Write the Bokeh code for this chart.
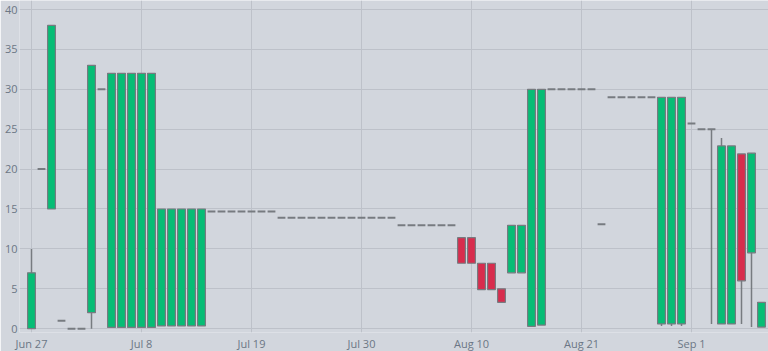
import pandas as pd
from bokeh.plotting import figure
from bokeh.models import Range1d, FixedTicker, ColumnDataSource
from bokeh.embed import file_html
from bokeh.resources import INLINE

start = "2024-06-27"
end = "2024-09-08"
dates = [d.strftime("%Y-%m-%d") for d in pd.date_range(start, end, freq="D")]

opens = [0, 20, 15, 1, 0, 0, 2, 30,
         0.15, 0.15, 0.15, 0.15, 0.15,
         0.35, 0.35, 0.35, 0.35, 0.35,
         14.7, 14.7, 14.7, 14.7, 14.7, 14.7, 14.7,
         13.9, 13.9, 13.9, 13.9, 13.9, 13.9, 13.9, 13.9, 13.9, 13.9, 13.9, 13.9,
         12.95, 12.95, 12.95, 12.95, 12.95, 12.95,
         11.4, 11.4, 8.2, 8.2, 5.0, 7.0, 7.0, 0.3, 0.45,
         30, 30, 30, 30, 30,
         13.1,
         29, 29, 29, 29, 29,
         0.6, 0.6, 0.6,
         25.7, 25, 25, 0.6, 0.6, 21.9, 9.5, 0.2]
highs = [10, 20, 38, 1, 0, 0, 33, 30,
         32, 32, 32, 32, 32,
         15, 15, 15, 15, 15,
         14.7, 14.7, 14.7, 14.7, 14.7, 14.7, 14.7,
         13.9, 13.9, 13.9, 13.9, 13.9, 13.9, 13.9, 13.9, 13.9, 13.9, 13.9, 13.9,
         12.95, 12.95, 12.95, 12.95, 12.95, 12.95,
         11.4, 11.4, 8.2, 8.2, 5.0, 12.95, 12.95, 30, 30,
         30, 30, 30, 30, 30,
         13.1,
         29, 29, 29, 29, 29,
         29, 29, 29,
         25.7, 25, 25, 23.9, 22.9, 21.9, 22, 3.3]
lows = [0, 20, 15, 1, 0, 0, 0, 30,
        0.15, 0.15, 0.15, 0.15, 0.15,
        0.35, 0.35, 0.35, 0.35, 0.35,
        14.7, 14.7, 14.7, 14.7, 14.7, 14.7, 14.7,
        13.9, 13.9, 13.9, 13.9, 13.9, 13.9, 13.9, 13.9, 13.9, 13.9, 13.9, 13.9,
        12.95, 12.95, 12.95, 12.95, 12.95, 12.95,
        8.2, 8.2, 4.9, 4.9, 3.3, 7.0, 7.0, 0.3, 0.45,
        30, 30, 30, 30, 30,
        13.1,
        29, 29, 29, 29, 29,
        0.35, 0.35, 0.35,
        25.7, 25, 0.6, 0.6, 0.6, 0.6, 0.2, 0.2]
closes = [7, 20, 38, 1, 0, 0, 33, 30,
          32, 32, 32, 32, 32,
          15, 15, 15, 15, 15,
          14.7, 14.7, 14.7, 14.7, 14.7, 14.7, 14.7,
          13.9, 13.9, 13.9, 13.9, 13.9, 13.9, 13.9, 13.9, 13.9, 13.9, 13.9, 13.9,
          12.95, 12.95, 12.95, 12.95, 12.95, 12.95,
          8.2, 8.2, 4.9, 4.9, 3.3, 12.95, 12.95, 30, 30,
          30, 30, 30, 30, 30,
          13.1,
          29, 29, 29, 29, 29,
          29, 29, 29,
          25.7, 25, 25, 22.9, 22.9, 6.0, 22, 3.3]

tick_labels = ["Jun 27", "Jul 8", "Jul 19", "Jul 30", "Aug 10", "Aug 21", "Sep 1"]
tick_dates = ["2024-06-27", "2024-07-08", "2024-07-19", "2024-07-30",
              "2024-08-10", "2024-08-21", "2024-09-01"]
y_ticks = [0, 5, 10, 15, 20, 25, 30, 35, 40]

BG = "#d2d6dd"
GRID = "#bdc1c9"
TEXT = "#6c7785"
GREEN = "#06bd75"
RED = "#d82c4d"
EDGE = "#777b80"
W = 0.78

t0 = pd.Timestamp(start)
df = pd.DataFrame({"date": pd.to_datetime(dates), "open": opens, "high": highs,
                   "low": lows, "close": closes})
df["x"] = (df["date"] - t0).dt.days.astype(float)
df["top"] = df[["open", "close"]].max(axis=1)
df["bottom"] = df[["open", "close"]].min(axis=1)
df["color"] = [GREEN if c >= o else RED for o, c in zip(df["open"], df["close"])]
df["x0"] = df["x"] - W / 2
df["x1"] = df["x"] + W / 2

doji = df[df["open"] == df["close"]]
body = df[df["open"] != df["close"]]
wick = df[(df["high"] > df["top"]) | (df["low"] < df["bottom"])]

p = figure(frame_width=749, frame_height=332, output_backend="svg",
           toolbar_location=None,
           x_range=Range1d(-1.2, 73.7), y_range=Range1d(-0.48, 41.13),
           min_border_left=19, min_border_right=0, min_border_top=0,
           min_border_bottom=0)
p.background_fill_color = BG
p.border_fill_color = BG
p.outline_line_color = None

p.segment(x0="x", y0="low", x1="x", y1="high", source=ColumnDataSource(wick),
          line_color=EDGE, line_width=1.5)
p.vbar(x="x", width=W, top="top", bottom="bottom", source=ColumnDataSource(body),
       fill_color="color", line_color=EDGE, line_width=1.2)
p.segment(x0="x0", y0="close", x1="x1", y1="close", source=ColumnDataSource(doji),
          line_color=EDGE, line_width=2)

tick_x = [(pd.Timestamp(d) - t0).days for d in tick_dates]
p.xaxis.ticker = FixedTicker(ticks=tick_x)
p.xaxis.major_label_overrides = {tx: lab for tx, lab in zip(tick_x, tick_labels)}
p.yaxis.ticker = FixedTicker(ticks=y_ticks)

for ax in (p.xaxis, p.yaxis):
    ax.axis_line_color = None
    ax.major_tick_line_color = None
    ax.minor_tick_line_color = None
    ax.major_tick_in = 0
    ax.major_tick_out = 0
    ax.major_label_text_color = TEXT
    ax.major_label_text_font = "Open Sans"
    ax.major_label_text_font_size = "11px"
p.yaxis.major_label_standoff = 2
p.xaxis.major_label_standoff = 3

p.grid.grid_line_color = GRID
p.grid.grid_line_width = 1
p.xgrid.ticker = FixedTicker(ticks=tick_x)
p.ygrid.ticker = FixedTicker(ticks=y_ticks)

open("out.html", "w").write(file_html(p, INLINE))
